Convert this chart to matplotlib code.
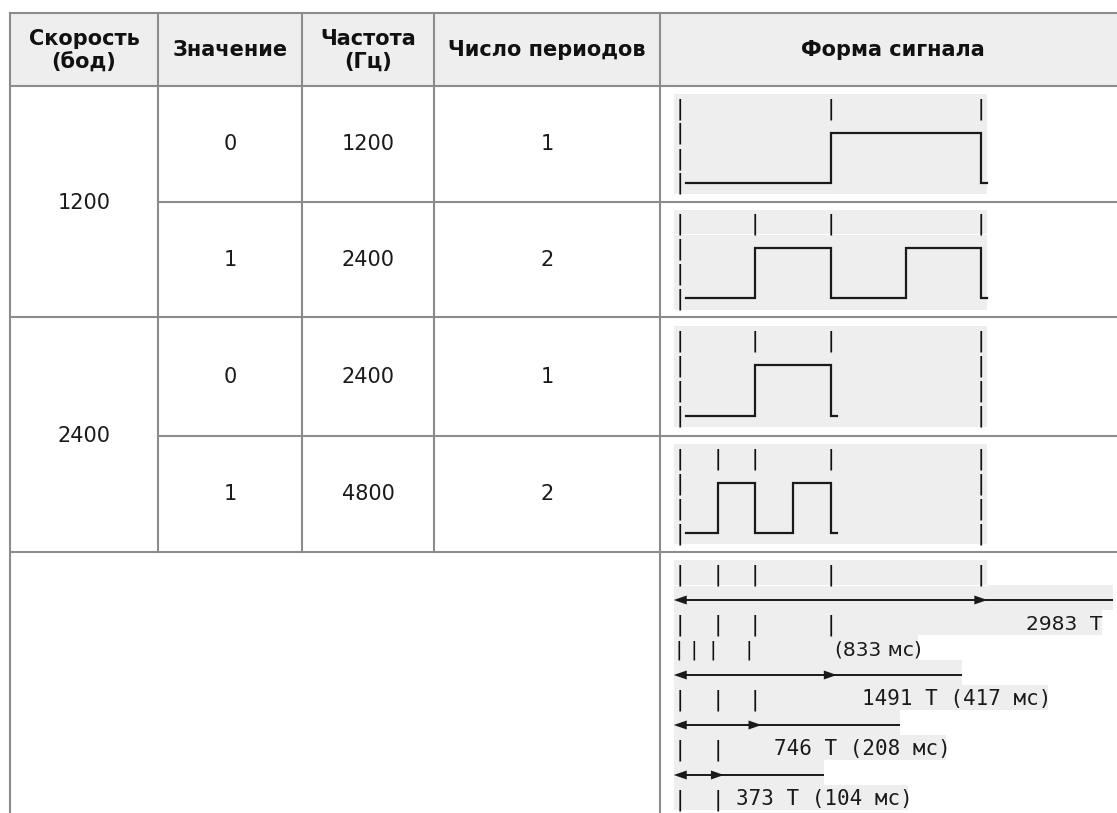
import matplotlib.pyplot as plt
from matplotlib.patches import Rectangle

# table contents
headers = ["Скорость\n(бод)", "Значение", "Частота\n(Гц)", "Число периодов", "Форма сигнала"]
speeds = [1200, 2400]
values = [0, 1, 0, 1]
freqs = [1200, 2400, 2400, 4800]
periods = [1, 2, 1, 2]

# "|" marks on the first line of each waveform (character cells)
top_ticks = [[0, 12, 24], [0, 6, 12, 24], [0, 6, 12, 24], [0, 3, 6, 12, 24]]
bit_chars = 24  # one bit at 1200 baud

# timing scale in the last row
scale_ticks = [0, 3, 6, 12, 24]
arrow_spans = [24, 12, 6, 3]
arrow_tails = [10, 10, 11, 8]
first_label = ["2983  T", "(833 мс)"]
span_labels = ["1491 T (417 мс)", "746 T (208 мс)", "373 T (104 мс)"]
span_ticks = [[0, 3, 6], [0, 3], [0, 3]]
span_label_at = [15, 8, 5]

# layout (pixels)
W, H = 1117, 813
col_x = [10, 158, 302, 434, 660, 1126]
row_y = [13, 86, 202, 317, 436, 552, 900]
x0 = 673.75          # left of the ascii block
cw = 15 * 100 / 72 * 0.6021   # mono char width
lh = 25              # line height
border = "#8c8c8c"
shade = "#eeeeee"
ink = "#1a1a1a"
FS = 15

fig = plt.figure(figsize=(W / 100, H / 100), dpi=100)
ax = fig.add_axes([0, 0, 1, 1])
ax.set_xlim(0, W)
ax.set_ylim(H, 0)
ax.axis("off")

def cx(c):
    return x0 + (c + 0.5) * cw

def pipe(c, top, x=None, font="DejaVu Sans Mono", size=FS):
    ax.text(cx(c) if x is None else x, top + 20, "|", family=font, fontsize=size,
            ha="center", va="baseline", color="#111111")

def arrow(top, span, tail):
    y = top + 15
    tip = x0 + (span + 1) * cw
    ax.plot([x0 + 4, x0 + (span + 1 + tail) * cw], [y, y], color=ink, lw=1.4,
            solid_capstyle="butt")
    ax.fill([x0, x0 + 13, x0 + 13], [y, y - 4.5, y + 4.5], color=ink, lw=0)
    ax.fill([tip, tip - 13, tip - 13], [y, y - 4.5, y + 4.5], color=ink, lw=0)

def gap(y):
    # thin white seam between two shaded text lines
    ax.plot([x0, x0 + 25 * cw], [y, y], color="white", lw=0.8)

# header background
ax.add_patch(Rectangle((col_x[0], row_y[0]), col_x[-1] - col_x[0], row_y[1] - row_y[0],
                       facecolor=shade, edgecolor="none"))
for i, h in enumerate(headers):
    ax.text((col_x[i] + col_x[i + 1]) / 2, (row_y[0] + row_y[1]) / 2 + 1, h,
            fontsize=FS, fontweight="bold", ha="center", va="center",
            multialignment="center", linespacing=1.2, color="#111111")

# body cells
for i, s in enumerate(speeds):
    ax.text((col_x[0] + col_x[1]) / 2, (row_y[1 + 2 * i] + row_y[3 + 2 * i]) / 2 + 1, str(s),
            fontsize=FS, ha="center", va="center", color=ink)
for r in range(4):
    yc = (row_y[r + 1] + row_y[r + 2]) / 2
    for c, v in enumerate([values[r], freqs[r], periods[r]]):
        ax.text((col_x[c + 1] + col_x[c + 2]) / 2, yc, str(v),
                fontsize=FS, ha="center", va="center", color=ink)

    # waveform block
    top = yc - 50
    ax.add_patch(Rectangle((x0, top), 25 * cw, 4 * lh, facecolor=shade, edgecolor="none"))
    if r == 1:
        gap(top + lh)
    for t in top_ticks[r]:
        pipe(t, top)
    half = bit_chars * speeds[0] // (2 * freqs[r])
    edges = [half * k for k in range(1, 2 * periods[r] + 1)]
    hi, lo = top + lh + 14, top + 3 * lh + 14
    xs, ys = [x0 + cw], [lo]
    level = lo
    for e in edges:
        other = hi if level == lo else lo
        xs += [cx(e), cx(e)]
        ys += [level, other]
        level = other
    xs.append(x0 + (edges[-1] + 1) * cw)
    ys.append(level)
    ax.plot(xs, ys, color=ink, lw=1.6, solid_joinstyle="miter")
    for ln in range(1, 4):
        pipe(0, top + ln * lh)
        if edges[-1] < bit_chars:
            pipe(bit_chars, top + ln * lh)

# last row: timing scale
top = row_y[5] + 8
bg_ends = [x0 + 25 * cw, x0 + 35 * cw, 1102, 918, x0 + 23 * cw,
           x0 + 29.8 * cw, x0 + 18 * cw, x0 + 21.7 * cw, x0 + 12 * cw, x0 + 18.7 * cw]
for i, e in enumerate(bg_ends):
    ax.add_patch(Rectangle((x0, top + i * lh), e - x0, lh, facecolor=shade, edgecolor="none"))
gap(top + lh)

for t in scale_ticks:
    pipe(t, top)
arrow(top + lh, arrow_spans[0], arrow_tails[0])
for t in scale_ticks[:-1]:
    pipe(t, top + 2 * lh)
ax.text(1026, top + 2 * lh + 20, first_label[0], fontsize=14.5, ha="left",
        va="baseline", color=ink)
for off in [5.25, 20.5, 39, 75.5]:
    pipe(0, top + 3 * lh, x=x0 + off, font="DejaVu Sans", size=14.5)
ax.text(835, top + 3 * lh + 20, first_label[1], fontsize=14.5, ha="left",
        va="baseline", color=ink)

for k in range(3):
    arrow(top + (4 + 2 * k) * lh, arrow_spans[k + 1], arrow_tails[k + 1])
    ltop = top + (5 + 2 * k) * lh
    for t in span_ticks[k]:
        pipe(t, ltop)
    ax.text(x0 + span_label_at[k] * cw, ltop + 20, span_labels[k],
            family="DejaVu Sans Mono", fontsize=FS, ha="left", va="baseline", color=ink)

# grid lines
lw = 1.5
for y in [row_y[0], row_y[1], row_y[3], row_y[5]]:
    ax.plot([col_x[0], col_x[-1]], [y, y], color=border, lw=lw)
for y in [row_y[2], row_y[4]]:
    ax.plot([col_x[1], col_x[-1]], [y, y], color=border, lw=lw)
for x in [col_x[0], col_x[4], col_x[5]]:
    ax.plot([x, x], [row_y[0], H + 5], color=border, lw=lw)
for x in col_x[1:4]:
    ax.plot([x, x], [row_y[0], row_y[5]], color=border, lw=lw)

fig.savefig("out.png", dpi=100, facecolor="white")
